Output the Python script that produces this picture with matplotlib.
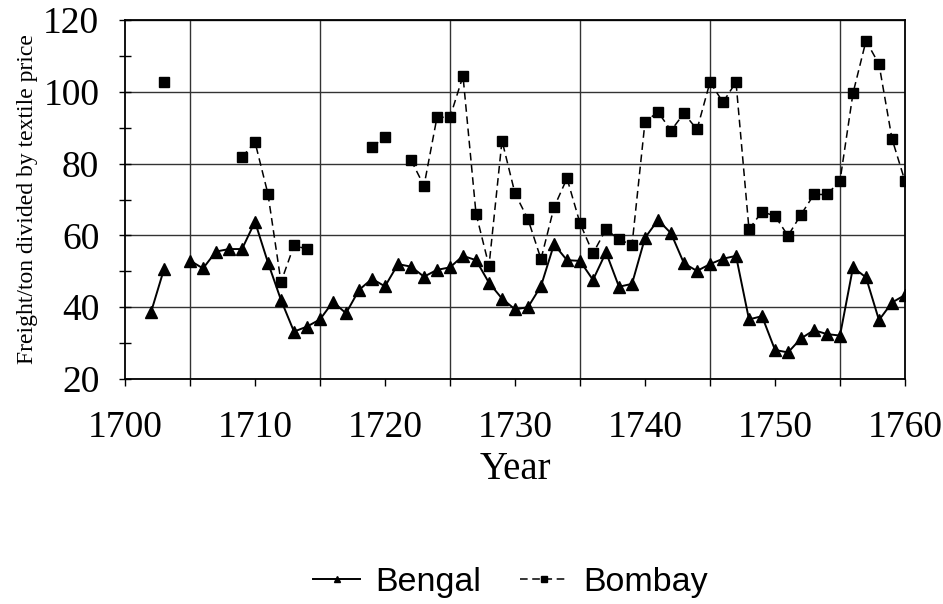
import numpy as np
import matplotlib
matplotlib.use("Agg")
import matplotlib.pyplot as plt
from matplotlib.ticker import FixedLocator

nan = np.nan
years = list(range(1702, 1761))

bengal = [38.6, 50.6, nan, 53.0, 50.8, 55.5, 56.2, 56.2, 63.8, 52.4,
          42.0, 33.2, 34.6, 36.6, 41.5, 38.3, 44.8, 47.9, 45.8, 52.0,
          51.3, 48.5, 50.4, 51.1, 54.3, 53.1, 46.8, 42.4, 39.4, 40.0,
          45.9, 57.5, 53.1, 52.9, 47.6, 55.3, 45.7, 46.5, 59.3, 64.3,
          60.6, 52.2, 50.1, 52.0, 53.5, 54.3, 36.6, 37.5, 28.1, 27.4,
          31.3, 33.6, 32.5, 32.1, 51.1, 48.3, 36.4, 41.3, 43.4]

bombay = [nan, 102.6, nan, nan, nan, nan, nan, 81.8, 86.0, 71.5,
          47.0, 57.2, 56.2, nan, nan, nan, nan, 84.7, 87.3, nan,
          81.0, 73.8, 92.9, 92.9, 104.4, 66.1, 51.5, 86.4, 71.7, 64.5,
          53.4, 67.8, 75.9, 63.4, 55.0, 61.7, 58.9, 57.3, 91.6, 94.4,
          89.2, 94.0, 89.5, 102.7, 97.1, 102.7, 61.7, 66.6, 65.4, 59.9,
          65.8, 71.4, 71.4, 75.2, 99.6, 114.2, 107.7, 86.9, 75.1]

x_major = [1700, 1710, 1720, 1730, 1740, 1750, 1760]
y_major = [20, 40, 60, 80, 100, 120]

serif = "Liberation Serif"
sans = "Liberation Sans"

fig = plt.figure(figsize=(9.43, 6.04), dpi=100)
ax = fig.add_axes([125/943, 1-379/604, 780/943, 359/604])

ax.plot(years, bengal, color="black", lw=1.4, marker="^", ms=8,
        label="Bengal", zorder=3)
ax.plot(years, bombay, color="black", lw=1.1, ls=(0, (5, 3)), marker="s",
        ms=6.8, label="Bombay", zorder=3)

ax.set_xlim(1700, 1760)
ax.set_ylim(20, 120)
ax.xaxis.set_major_locator(FixedLocator(x_major))
ax.xaxis.set_minor_locator(FixedLocator([1705, 1715, 1725, 1735, 1745, 1755]))
ax.yaxis.set_major_locator(FixedLocator(y_major))
ax.yaxis.set_minor_locator(FixedLocator([30, 50, 70, 90, 110]))

ax.grid(True, which="minor", axis="x", color="#333333", lw=1.0)
ax.grid(True, which="major", axis="y", color="#333333", lw=1.0)
ax.set_axisbelow(True)

ax.tick_params(axis="x", which="both", direction="out", length=5, width=1,
               bottom=True, top=False)
ax.tick_params(axis="x", which="major", pad=18, labelsize=27)
ax.tick_params(axis="y", which="both", direction="inout", length=9, width=1)
ax.tick_params(axis="y", which="major", pad=14, labelsize=27)
for lab in ax.get_xticklabels() + ax.get_yticklabels():
    lab.set_fontfamily(serif)

for sp in ax.spines.values():
    sp.set_color("black")
    sp.set_linewidth(1.3)

ax.set_xlabel("Year", fontfamily=serif, fontsize=28, labelpad=4)
ax.set_ylabel("Freight/ton divided by textile price", fontfamily=serif,
              fontsize=17, labelpad=4)

fig.legend(loc="center", bbox_to_anchor=(0.541, 1-582/604), ncol=2,
           frameon=False, prop={"family": sans, "size": 24.5},
           handlelength=1.4, markerscale=0.6, columnspacing=1.15,
           handletextpad=0.44)

fig.savefig("out.png", dpi=100, facecolor="white")
